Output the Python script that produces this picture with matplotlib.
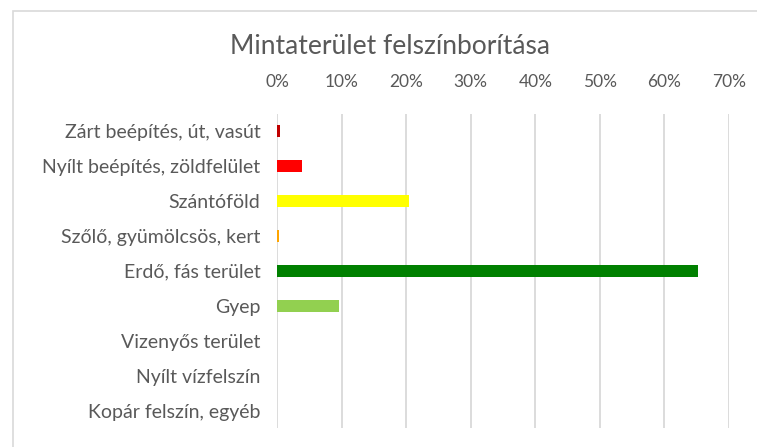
import matplotlib.pyplot as plt
from matplotlib.ticker import PercentFormatter
from matplotlib.patches import Rectangle

categories = ['Zárt beépítés, út, vasút', 'Nyílt beépítés, zöldfelület', 'Szántóföld',
              'Szőlő, gyümölcsös, kert', 'Erdő, fás terület', 'Gyep',
              'Vizenyős terület', 'Nyílt vízfelszín', 'Kopár felszín, egyéb']
values = [0.5, 3.8, 20.5, 0.3, 65.2, 9.6, 0, 0, 0]
colors = ['#C00000', '#FF0000', '#FFFF00', '#FFA500', '#008000', '#92D050',
          '#4472C4', '#4472C4', '#A5A5A5']
xticks = [0, 10, 20, 30, 40, 50, 60, 70]

plt.rcParams['font.family'] = ['Lato', 'DejaVu Sans']
fig = plt.figure(figsize=(7.57, 4.47), dpi=100)
fig.patches.append(Rectangle((13 / 757, -0.1), 2, 1 - 11 / 447 + 0.1, transform=fig.transFigure,
                             fill=False, edgecolor='#d9d9d9', linewidth=1.2))
ax = fig.add_axes([277 / 757, 1 - 428 / 447, (729 - 277) / 757, (428 - 113.5) / 447])

y = list(range(len(categories)))
ax.barh(y, values, height=0.35, color=colors, zorder=3)
ax.set_ylim(len(categories) - 0.5, -0.5)
ax.set_xlim(0, 70)
ax.set_xticks(xticks)
ax.xaxis.set_major_formatter(PercentFormatter(decimals=0))
ax.set_yticks(y)
ax.set_yticklabels(categories)
ax.xaxis.tick_top()
ax.tick_params(axis='both', length=0, colors='#595959')
ax.tick_params(axis='x', pad=17, labelsize=12.5)
ax.tick_params(axis='y', pad=12, labelsize=14)
ax.grid(axis='x', color='#d9d9d9', linewidth=1.3, zorder=0)
for s in ax.spines.values():
    s.set_visible(False)

fig.text(390 / 757, 1 - 47 / 447, 'Mintaterület felszínborítása', ha='center', va='center',
         fontsize=19, color='#595959')

fig.savefig('out.png', dpi=100)
